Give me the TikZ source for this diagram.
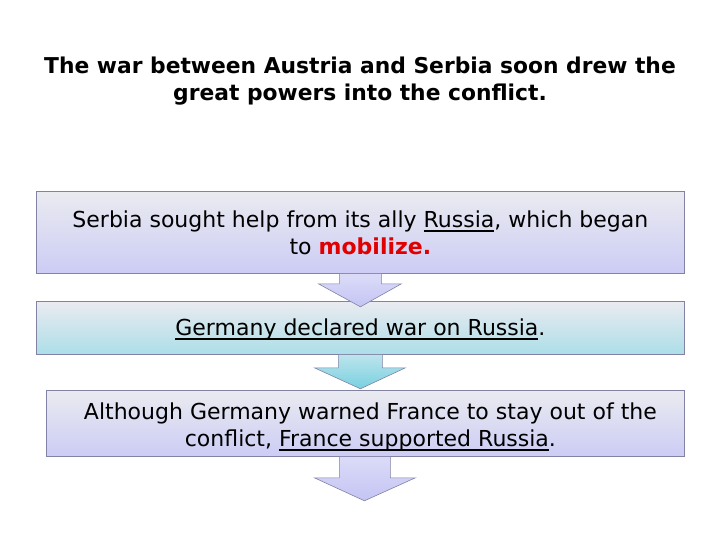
\documentclass[tikz,border=0pt]{standalone}
\usepackage{fontspec}
\setmainfont{DejaVu Sans}
\usetikzlibrary{calc}
\definecolor{boxtop}{RGB}{234,235,240}
\definecolor{lav}{RGB}{204,204,245}
\definecolor{cyanb}{RGB}{172,222,232}
\definecolor{edge}{RGB}{130,130,165}
\definecolor{arrowlav}{RGB}{196,196,244}
\definecolor{arrowcy}{RGB}{120,208,224}
\definecolor{mred}{RGB}{225,0,0}
\newcommand{\myul}[1]{{\setbox0\hbox{#1}\rlap{\rule[-4.2pt]{\wd0}{1.6pt}}\box0}}
\tikzset{
  stepbox/.style={draw=edge, line width=0.8pt, inner sep=0pt, anchor=north west},
  lavbox/.style={stepbox, top color=boxtop, bottom color=lav},
  cyanbox/.style={stepbox, top color=boxtop, bottom color=cyanb},
  lavarrow/.style={draw=edge, line width=0.6pt, top color=lav!70!white, bottom color=arrowlav},
  cyarrow/.style={draw=edge, line width=0.6pt, top color=cyanb!80!white, bottom color=arrowcy},
  txt/.style={font=\fontsize{22}{27}\selectfont, align=center},
  title/.style={font=\bfseries\fontsize{21.8}{27}\selectfont, align=center}
}
\begin{document}
\begin{tikzpicture}[x=1pt,y=-1pt]
\useasboundingbox (0,0) rectangle (720,540);
% title
\node[title] (t) at (360,81.5) {The war between Austria and Serbia soon drew the\\great powers into the conflict.};
% boxes
\node[lavbox, minimum width=648pt, minimum height=82pt] (b1) at (36,191) {};
\node[cyanbox, minimum width=648pt, minimum height=53pt] (b2) at (36,301) {};
\node[lavbox, minimum width=638pt, minimum height=66pt] (b3) at (46,390) {};
% arrows
\draw[lavarrow] ($(b1.south)+(-21,0)$) -- ++(0,10) -- ++(-21,0) -- ($(b1.south)+(0,33)$) coordinate (a1tip)
  -- ($(b1.south)+(41,10)$) -- ++(-20,0) -- ($(b1.south)+(21,0)$);
\draw[cyarrow] ($(b2.south)+(-22,0)$) -- ++(0,13) -- ++(-24,0) -- ($(b2.south)+(0,34)$) coordinate (a2tip)
  -- ($(b2.south)+(45,13)$) -- ++(-23,0) -- ($(b2.south)+(22,0)$);
\draw[lavarrow] ($(b3.south)+(-26,0)$) -- ++(0,21) -- ++(-25,0) -- ($(b3.south)+(-1,44)$) coordinate (a3tip)
  -- ($(b3.south)+(50,21)$) -- ++(-25,0) -- ($(b3.south)+(25,0)$);
% texts
\node[txt] (x1) at ($(b1.center)+(0,0.5)$) {Serbia sought help from its ally \myul{Russia}, which began\\to {\color{mred}\bfseries mobilize.}};
\node[txt] (x2) at ($(b2.center)+(0,1.5)$) {\myul{Germany declared war on Russia}.};
\node[txt] (x3) at ($(b3.center)+(5,3.5)$) {Although Germany warned France to stay out of the\\conflict, \myul{France supported Russia}.};
\end{tikzpicture}
\end{document}
